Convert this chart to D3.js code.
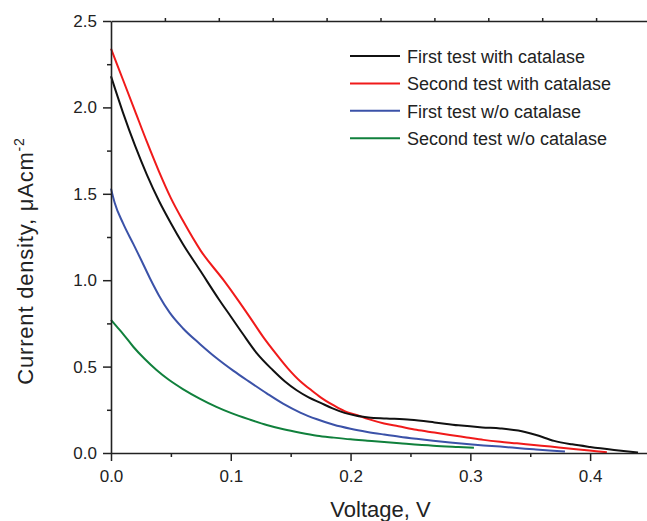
<!DOCTYPE html>
<html>
<head>
<meta charset="utf-8">
<script src="https://cdn.jsdelivr.net/npm/d3@7"></script>
<style>
  html, body { margin: 0; padding: 0; background: #fff; }
  svg { display: block; font-family: "Liberation Sans", Arial, Helvetica, sans-serif; }
</style>
</head>
<body>
<svg id="chart" width="647" height="521"></svg>
<script>
// ---- data ----
const seriesNames = ["First test with catalase", "Second test with catalase", "First test w/o catalase", "Second test w/o catalase"];
const seriesColors = ["#111111", "#f01a1a", "#3b52a8", "#10803c"];

const voltageFirstCat = [0, 0.01, 0.02, 0.03, 0.04, 0.05, 0.06, 0.075, 0.09, 0.1, 0.11, 0.122, 0.135, 0.145, 0.155, 0.165, 0.175, 0.185, 0.195, 0.205, 0.215, 0.23, 0.25, 0.27, 0.29, 0.31, 0.325, 0.34, 0.355, 0.37, 0.385, 0.4, 0.42, 0.44];
const currentFirstCat = [2.18, 1.97, 1.78, 1.61, 1.46, 1.33, 1.21, 1.05, 0.89, 0.79, 0.69, 0.575, 0.48, 0.415, 0.363, 0.322, 0.29, 0.258, 0.232, 0.215, 0.206, 0.2, 0.192, 0.177, 0.16, 0.148, 0.142, 0.13, 0.104, 0.07, 0.05, 0.035, 0.018, 0.003];

const voltageSecondCat = [0, 0.01, 0.02, 0.03, 0.04, 0.05, 0.06, 0.075, 0.094, 0.105, 0.116, 0.127, 0.138, 0.148, 0.158, 0.166, 0.175, 0.186, 0.195, 0.205, 0.215, 0.228, 0.24, 0.255, 0.27, 0.283, 0.297, 0.311, 0.325, 0.339, 0.353, 0.367, 0.38, 0.395, 0.405, 0.414];
const currentSecondCat = [2.34, 2.16, 1.98, 1.8, 1.63, 1.475, 1.345, 1.17, 1.0, 0.895, 0.785, 0.672, 0.572, 0.487, 0.415, 0.37, 0.322, 0.275, 0.242, 0.22, 0.196, 0.171, 0.155, 0.134, 0.118, 0.104, 0.09, 0.076, 0.065, 0.056, 0.046, 0.037, 0.027, 0.017, 0.01, 0.004];

const voltageFirstNoCat = [0, 0.003, 0.01, 0.0186, 0.025, 0.0326, 0.04, 0.049, 0.06, 0.0744, 0.088, 0.102, 0.116, 0.13, 0.144, 0.158, 0.172, 0.186, 0.2, 0.214, 0.228, 0.241, 0.255, 0.269, 0.283, 0.297, 0.311, 0.325, 0.339, 0.353, 0.366, 0.379];
const currentFirstNoCat = [1.53, 1.45, 1.33, 1.21, 1.12, 1.01, 0.912, 0.812, 0.722, 0.63, 0.55, 0.477, 0.41, 0.345, 0.284, 0.234, 0.195, 0.163, 0.14, 0.122, 0.107, 0.094, 0.082, 0.071, 0.061, 0.052, 0.044, 0.037, 0.029, 0.021, 0.014, 0.008];

const voltageSecondNoCat = [0, 0.005, 0.01, 0.0186, 0.028, 0.038, 0.048, 0.06, 0.074, 0.088, 0.1, 0.116, 0.13, 0.144, 0.158, 0.172, 0.186, 0.2, 0.214, 0.241, 0.269, 0.29, 0.303];
const currentSecondNoCat = [0.77, 0.73, 0.69, 0.615, 0.545, 0.48, 0.425, 0.37, 0.315, 0.267, 0.232, 0.193, 0.162, 0.137, 0.117, 0.1, 0.089, 0.079, 0.071, 0.056, 0.042, 0.035, 0.031];

const xTickLabels = [0, 0.1, 0.2, 0.3, 0.4];
const xMinorTicks = [0.05, 0.15, 0.25, 0.35];
const yTickLabels = [0, 0.5, 1.0, 1.5, 2.0, 2.5];
const yMinorTicks = [0.25, 0.75, 1.25, 1.75, 2.25];
const xTitle = "Voltage, V";
const yTitle = "Current density, \u03BCAcm";
const yTitleSup = "-2";

// ---- layout ----
const svg = d3.select("#chart");
const x = d3.scaleLinear().domain([0, 0.45]).range([111, 650]);
const y = d3.scaleLinear().domain([0, 2.5]).range([453, 21]);
const axisColor = "#222";

const series = [
  { v: voltageFirstCat, c: currentFirstCat },
  { v: voltageSecondCat, c: currentSecondCat },
  { v: voltageFirstNoCat, c: currentFirstNoCat },
  { v: voltageSecondNoCat, c: currentSecondNoCat }
].map((s, i) => ({ name: seriesNames[i], color: seriesColors[i], pts: s.v.map((vv, j) => [vv, s.c[j]]) }));

const line = d3.line().curve(d3.curveMonotoneX).x(d => x(d[0])).y(d => y(d[1]));

const g = svg.append("g");
[3, 2, 1, 0].forEach(i => {
  g.append("path")
    .datum(series[i].pts)
    .attr("d", line)
    .attr("fill", "none")
    .attr("stroke", series[i].color)
    .attr("stroke-width", 2)
    .attr("stroke-linejoin", "round");
});

function styleAxis(sel) {
  sel.selectAll("path.domain").attr("stroke", axisColor).attr("stroke-width", 1.6);
  sel.selectAll(".tick line").attr("stroke", axisColor).attr("stroke-width", 1.5);
  sel.selectAll(".tick text").attr("fill", "#222").attr("font-size", 17).attr("font-family", "Liberation Sans, Arial, sans-serif");
}

// minor ticks
svg.append("g").attr("transform", "translate(0,453)")
  .call(d3.axisBottom(x).tickValues(xMinorTicks).tickSize(4).tickFormat(""))
  .call(sel => { sel.select("path.domain").remove(); styleAxis(sel); });
svg.append("g").attr("transform", "translate(111,0)")
  .call(d3.axisLeft(y).tickValues(yMinorTicks).tickSize(4).tickFormat(""))
  .call(sel => { sel.select("path.domain").remove(); styleAxis(sel); });

// top axis frame
svg.append("g").attr("transform", "translate(0,21)")
  .call(d3.axisTop(x).tickValues(d3.range(1, 10).map(k => k * 0.045)).tickSize(3).tickSizeOuter(0).tickFormat(""))
  .call(styleAxis);

// major axes
svg.append("g").attr("transform", "translate(0,453)")
  .call(d3.axisBottom(x).tickValues(xTickLabels).tickSize(8).tickSizeOuter(0).tickPadding(9).tickFormat(d3.format(".1f")))
  .call(styleAxis);
svg.append("g").attr("transform", "translate(111,0)")
  .call(d3.axisLeft(y).tickValues(yTickLabels).tickSize(8).tickSizeOuter(0).tickPadding(6).tickFormat(d3.format(".1f")))
  .call(styleAxis);

// titles
svg.append("text")
  .attr("x", (x.range()[0] + x.range()[1]) / 2)
  .attr("y", 517)
  .attr("text-anchor", "middle")
  .attr("font-size", 22)
  .attr("fill", "#222")
  .text(xTitle);

const yt = svg.append("text")
  .attr("transform", "translate(33,261) rotate(-90)")
  .attr("text-anchor", "middle")
  .attr("font-size", 22)
  .attr("letter-spacing", 0.8)
  .attr("fill", "#222");
yt.append("tspan").text(yTitle);
yt.append("tspan").attr("font-size", 14).attr("dy", -9).text(yTitleSup);

// legend
const legend = svg.append("g");
series.forEach((s, i) => {
  const ly = 56 + i * 27.4;
  legend.append("line")
    .attr("x1", 350).attr("x2", 400)
    .attr("y1", ly).attr("y2", ly)
    .attr("stroke", s.color).attr("stroke-width", 2);
  legend.append("text")
    .attr("x", 407).attr("y", ly + 7)
    .attr("font-size", 18)
    .attr("fill", "#222")
    .text(s.name);
});
</script>
</body>
</html>
